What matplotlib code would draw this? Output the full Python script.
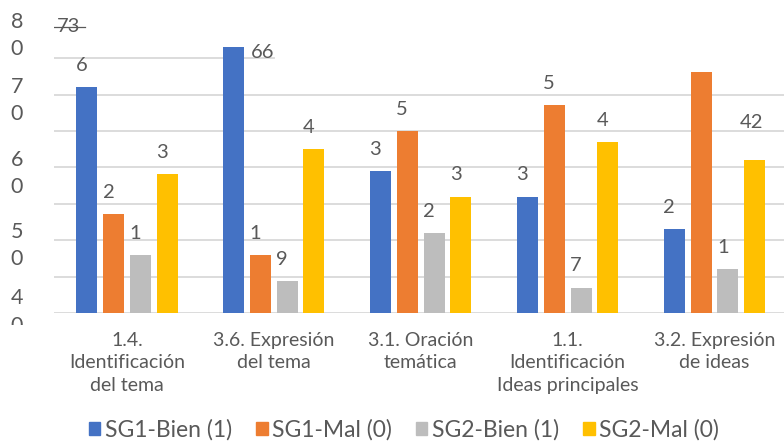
import matplotlib
matplotlib.use("Agg")
import matplotlib.pyplot as plt
import numpy as np
from matplotlib.patches import Patch
from matplotlib.transforms import blended_transform_factory, ScaledTranslation, Bbox

plt.rcParams['font.family'] = ['Lato', 'DejaVu Sans']

categories = ["1.4.\nIdentificación\ndel tema", "3.6. Expresión\ndel tema",
              "3.1. Oración\ntemática", "1.1.\nIdentificación\nIdeas principales",
              "3.2. Expresión\nde ideas"]
series_names = ["SG1-Bien (1)", "SG1-Mal (0)", "SG2-Bien (1)", "SG2-Mal (0)"]
sg1_bien = [71.0, 76.6, 59.5, 56.0, 51.5]
sg1_mal = [53.6, 48.0, 65.0, 68.6, 73.1]
sg2_bien = [48.0, 44.4, 51.0, 43.5, 46.0]
sg2_mal = [59.1, 62.5, 56.0, 63.5, 61.0]
sg1_bien_labels = ["6", "66", "3", "3", "2"]
sg1_mal_labels = ["2", "1", "5", "5", ""]
sg2_bien_labels = ["1", "9", "2", "7", "1"]
sg2_mal_labels = ["3", "4", "3", "4", "42"]
ytick_vals = [40, 50, 60, 70, 80]
ytick_labels = ["4\n0", "5\n0", "6\n0", "7\n0", "8\n0"]
stray_label = "73"

colors = ["#4472C4", "#ED7D31", "#BDBDBD", "#FFC000"]
text_color = "#595959"
grid_color = "#D9D9D9"

W, H = 784, 441
fig = plt.figure(figsize=(7.84, 4.41), dpi=100)
ax = fig.add_axes([53.5 / W, 1 - 313 / H, 734.5 / W, (313 - 21.8) / H])

values = [sg1_bien, sg1_mal, sg2_bien, sg2_mal]
labels = [sg1_bien_labels, sg1_mal_labels, sg2_bien_labels, sg2_mal_labels]
x = np.arange(len(categories))
step = 0.182
width = 0.143

ax.set_xlim(-0.5, len(categories) - 0.5)
ax.set_ylim(40, 80)

# gridlines
for g in [45, 50, 55, 60, 65, 70]:
    ax.axhline(g, color=grid_color, lw=1.3, zorder=0)
ax.axhline(75, xmin=0, xmax=0.30, color=grid_color, lw=1.3, zorder=0)
ax.axhline(40, color=grid_color, lw=1.3, zorder=0)

for i, (vals, labs) in enumerate(zip(values, labels)):
    xs = x + (i - 1.5) * step
    ax.bar(xs, np.array(vals) - 40, width=width, bottom=40, color=colors[i],
           zorder=2, label=series_names[i])
    for xx, v, t in zip(xs, vals, labs):
        if not t:
            continue
        if len(t) == 2 and i == 0:
            ax.annotate(t, (xx + width / 2, v), xytext=(4.5, -4), textcoords='offset points',
                        ha='left', va='center', fontsize=14.5, color=text_color, zorder=3)
        elif len(t) == 2:
            ax.annotate(t, (xx, v), xytext=(-2.5, 27), textcoords='offset points',
                        ha='center', va='center', fontsize=14.5, color=text_color, zorder=3)
        else:
            ax.annotate(t, (xx, v), xytext=(0.5, 15.5), textcoords='offset points',
                        ha='right', va='center', fontsize=14.5, color=text_color, zorder=3)

# stray label with line through it
ax.text(0.021, 79.3, stray_label, transform=blended_transform_factory(ax.transAxes, ax.transData),
        ha='center', va='center', fontsize=14.5, color=text_color)
ax.axhline(79.3, xmin=0, xmax=0.043, color=text_color, lw=0.9, zorder=4)

for s in ax.spines.values():
    s.set_visible(False)

ax.set_xticks(x)
ax.set_xticklabels(categories, fontsize=14, color=text_color, linespacing=1.36)
ax.tick_params(axis='x', length=0, pad=14)
ax.set_yticks([])

ytick_shift = {80: -14, 70: -6, 60: -6, 50: -5, 40: 1}
clip = Bbox.from_extents(0, H - 325, 53, H)
for v, t in zip(ytick_vals, ytick_labels):
    tr = blended_transform_factory(ax.transAxes, ax.transData) + \
        ScaledTranslation(0, ytick_shift[v] / 100, fig.dpi_scale_trans)
    txt = ax.text(-36.5 / 734.5, v, t, transform=tr, ha='center', va='center', fontsize=15.5,
                  color=text_color, linespacing=1.45, clip_on=True)
    txt.set_clip_box(clip)

handles = [Patch(color=c) for c in colors]
fig.legend(handles, series_names, loc='center', bbox_to_anchor=(404 / W, 1 - 430 / H),
           ncol=4, frameon=False, fontsize=16.5, handlelength=0.5, handleheight=0.5,
           handletextpad=0.2, columnspacing=1.05, labelcolor=text_color, borderaxespad=0,
           borderpad=0)

fig.savefig("out.png", dpi=100)
